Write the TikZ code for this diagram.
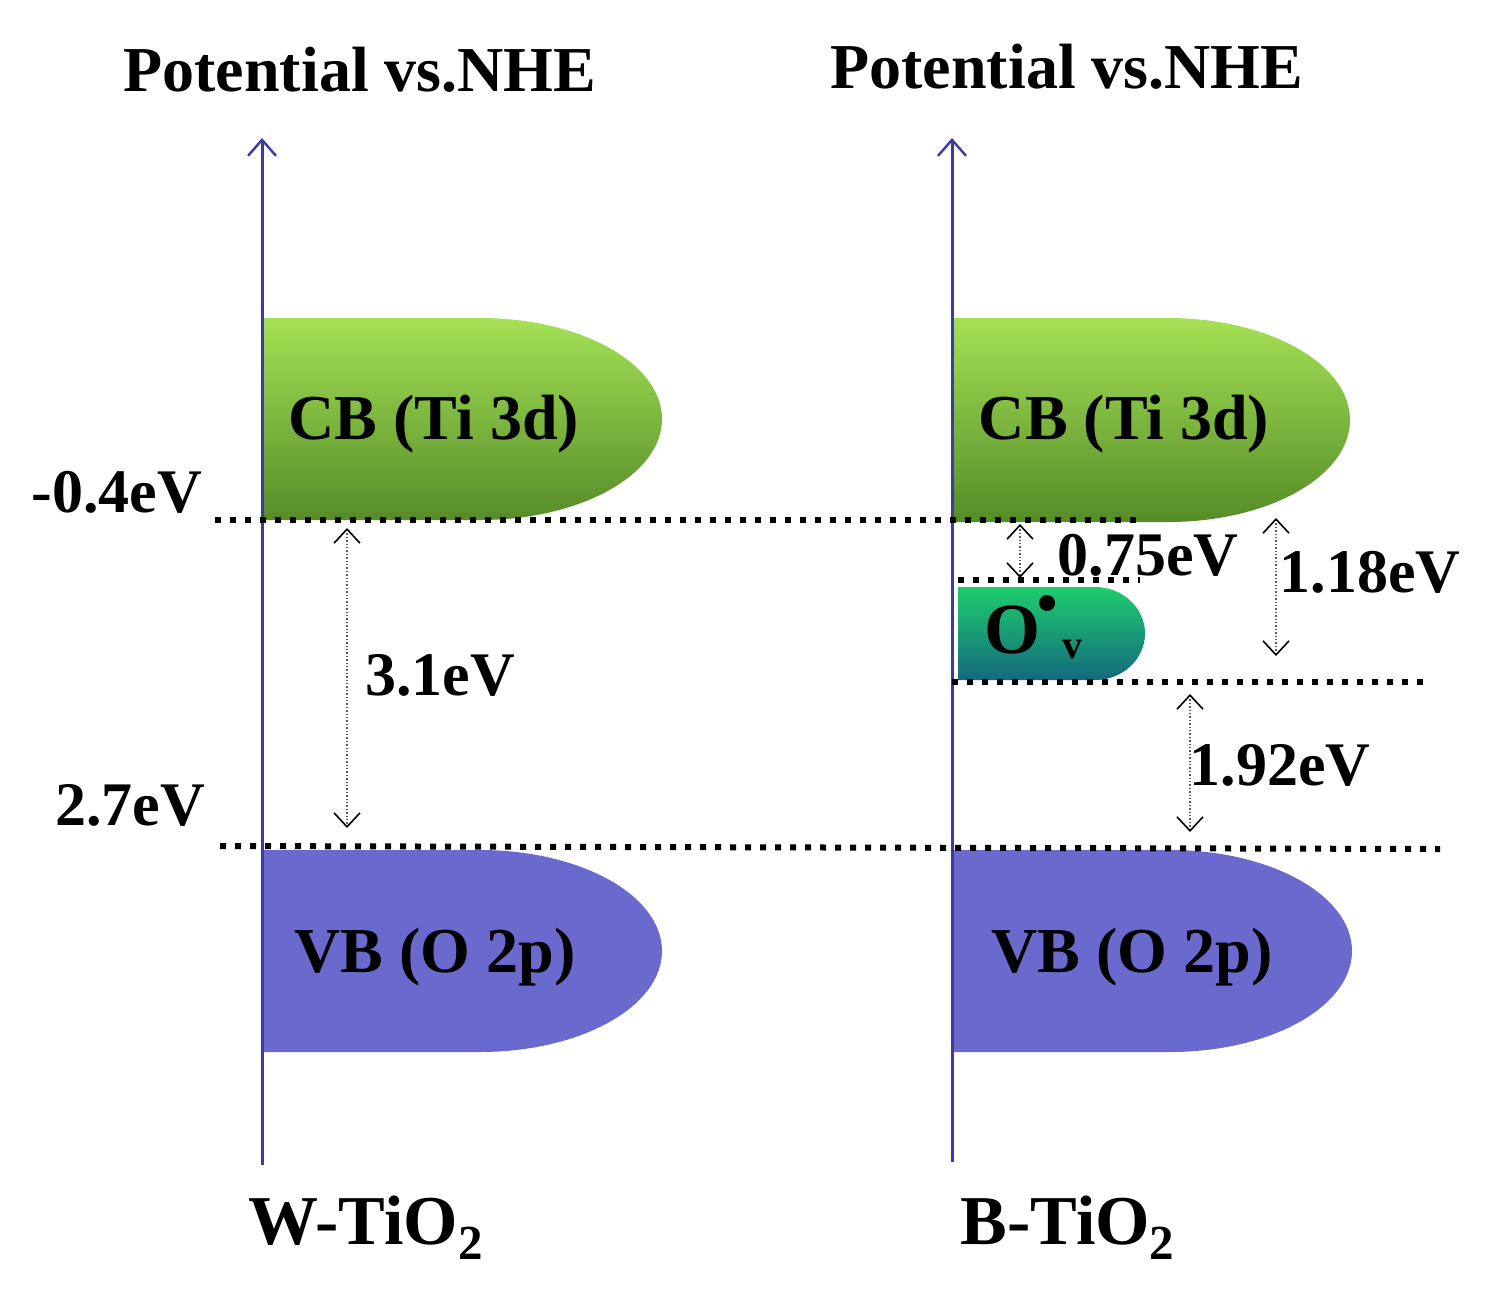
\documentclass[tikz,border=0pt]{standalone}
\usepackage{fontspec}
\setmainfont{Liberation Serif}
\usetikzlibrary{arrows.meta}
\definecolor{axc}{RGB}{60,60,160}
\definecolor{gtop}{RGB}{165,225,85}
\definecolor{gbot}{RGB}{85,140,40}
\definecolor{otop}{RGB}{30,205,110}
\definecolor{obot}{RGB}{20,105,125}
\definecolor{vbc}{RGB}{106,106,206}
\tikzset{
 axis/.style={draw=axc,line width=1.5pt,-{Straight Barb[length=8pt,width=14pt,line width=1.2pt]}},
 lvl/.style={line width=3pt,dash pattern=on 3pt off 4.5pt,black},
 gap/.style={densely dotted,line width=0.7pt,gray!70!black,{Straight Barb[length=7pt,width=13pt,line width=0.8pt,black]}-{Straight Barb[length=7pt,width=13pt,line width=0.8pt,black]}},
 lab/.style={font=\bfseries\fontsize{31}{34}\selectfont},
 band/.style={font=\bfseries\fontsize{32}{36}\selectfont},
 ttl/.style={font=\bfseries\fontsize{32}{36}\selectfont},
 sub/.style={font=\bfseries\fontsize{35}{38}\selectfont},
}
\begin{document}
\begin{tikzpicture}[x=0.5pt,y=-0.5pt]
\useasboundingbox (0,0) rectangle (1488,1302);
% bands
\shade[top color=gtop,bottom color=gbot] (262,318) -- (480,318) arc[start angle=-90,end angle=90,x radius=182,y radius=101] -- (262,520) -- cycle;
\shade[top color=gtop,bottom color=gbot] (952,318) -- (1168,318) arc[start angle=-90,end angle=90,x radius=182,y radius=102] -- (952,522) -- cycle;
\fill[vbc] (262,850) -- (480,850) arc[start angle=-90,end angle=90,x radius=182,y radius=101] -- (262,1052) -- cycle;
\fill[vbc] (952,850) -- (1170,850) arc[start angle=-90,end angle=90,x radius=182,y radius=101] -- (952,1052) -- cycle;
\shade[top color=otop,bottom color=obot] (958,587) -- (1095,587) arc[start angle=-90,end angle=90,x radius=50,y radius=46.5] -- (958,680) -- cycle;
\node[band] (cbl) at (434,424) {CB (Ti 3d)};
\node[band] (cbr) at (1124,424) {CB (Ti 3d)};
\node[band] (vbl) at (435,957) {VB (O 2p)};
\node[band] (vbr) at (1132,957) {VB (O 2p)};
\node[band,font=\bfseries\fontsize{36}{38}\selectfont] (ov) at (1012,630) {O};
\fill (1047,603) circle (8);
\node[font=\bfseries\fontsize{20}{22}\selectfont] (ovv) at (1072,650) {v};
% axes
\coordinate (l0) at (262,1165); \coordinate (l1) at (262,138);
\coordinate (r0) at (952,1162); \coordinate (r1) at (952,138);
\draw[axis] (l0) -- (l1);
\draw[axis] (r0) -- (r1);
% levels
\coordinate (a0) at (215,520); \coordinate (a1) at (1140,520);
\coordinate (b0) at (220,846); \coordinate (b1) at (1440,849);
\coordinate (c0) at (958,580); \coordinate (c1) at (1140,580);
\coordinate (d0) at (952,682); \coordinate (d1) at (1428,682);
\draw[lvl] (a0) -- (a1);
\draw[lvl] (b0) -- (b1);
\draw[lvl] (c0) -- (c1);
\draw[lvl] (d0) -- (d1);
% gaps
\coordinate (g1a) at (347,528); \coordinate (g1b) at (347,828);
\coordinate (g2a) at (1020,524); \coordinate (g2b) at (1020,578);
\coordinate (g3a) at (1276,518); \coordinate (g3b) at (1276,656);
\coordinate (g4a) at (1190,694); \coordinate (g4b) at (1190,832);
\draw[gap] (g1a) -- (g1b);
\draw[gap] (g2a) -- (g2b);
\draw[gap] (g3a) -- (g3b);
\draw[gap] (g4a) -- (g4b);
% labels
\node[lab] (m04) at (117,492) {-0.4eV};
\node[lab] (p27) at (130,805) {2.7eV};
\node[lab] (e31) at (440,675) {3.1eV};
\node[lab] (e075) at (1148,555) {0.75eV};
\node[lab] (e118) at (1370,572) {1.18eV};
\node[lab] (e192) at (1280,765) {1.92eV};
\node[ttl] (t1) at (360,70) {Potential vs.NHE};
\node[ttl] (t2) at (1067,67) {Potential vs.NHE};
\node[sub] (w) at (366,1228) {W-TiO\textsubscript{2}};
\node[sub] (b) at (1068,1228) {B-TiO\textsubscript{2}};
\end{tikzpicture}
\end{document}
